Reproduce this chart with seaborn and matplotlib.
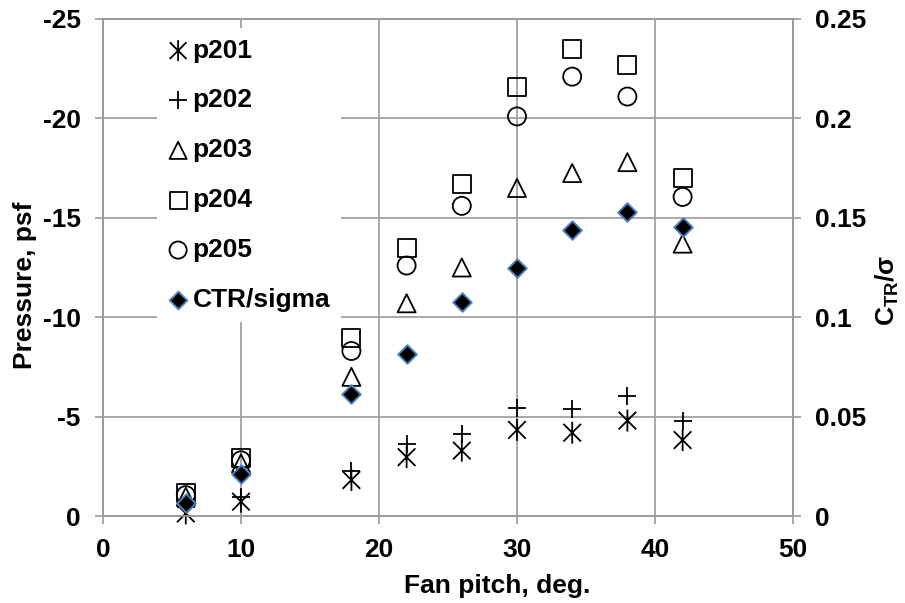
import matplotlib
matplotlib.use("Agg")
import matplotlib.pyplot as plt
from matplotlib.path import Path
from matplotlib.ticker import FuncFormatter
import seaborn as sns

# Fan pitch settings (deg.)
pitch = [6, 10, 18, 22, 26, 30, 34, 38, 42]

# Surface pressures at five taps (psf, suction negative)
p201 = [-0.13, -0.72, -1.81, -2.96, -3.29, -4.33, -4.19, -4.80, -3.82]
p202 = [-0.45, -0.95, -2.28, -3.62, -4.12, -5.45, -5.37, -6.04, -4.80]
p203 = [-0.97, -2.65, -7.00, -10.70, -12.50, -16.50, -17.25, -17.80, -13.70]
p204 = [-1.14, -2.92, -8.95, -13.50, -16.70, -21.60, -23.50, -22.70, -17.00]
p205 = [-1.05, -2.80, -8.30, -12.60, -15.60, -20.10, -22.10, -21.10, -16.05]

# Thrust coefficient over solidity
ctr_sigma = [0.0064, 0.021, 0.0614, 0.0815, 0.1077, 0.125, 0.144, 0.153, 0.1455]

left_ticks = [0, -5, -10, -15, -20, -25]
right_ticks = [0, 0.05, 0.10, 0.15, 0.20, 0.25]
x_ticks = [0, 10, 20, 30, 40, 50]

sns.set_theme(style="white")
plt.rcParams["font.family"] = ["Liberation Sans", "DejaVu Sans"]
plt.rcParams["font.weight"] = "bold"
plt.rcParams["axes.unicode_minus"] = False
for key in ("text.color", "axes.labelcolor", "xtick.labelcolor", "ytick.labelcolor"):
    plt.rcParams[key] = "black"

GRID = "#9a9a9a"
FS = 19

# Asterisk: a diagonal cross with a slightly longer vertical stroke
asterisk = Path(
    [(-1, -1), (1, 1), (-1, 1), (1, -1), (0, -1.25), (0, 1.25)],
    [Path.MOVETO, Path.LINETO, Path.MOVETO, Path.LINETO, Path.MOVETO, Path.LINETO],
)

fig = plt.figure(figsize=(9.05, 6.03), dpi=100)
ax = fig.add_axes([103 / 905, 1 - 516 / 603, 690 / 905, 497 / 603])
ax2 = ax.twinx()

open_kw = dict(color="black", facecolor="none", edgecolor="black", linewidth=1.3)
pressure_series = [
    ("p201", p201, dict(marker=asterisk, s=250, **open_kw)),
    ("p202", p202, dict(marker="+", s=180, color="black", linewidth=1.3)),
    ("p203", p203, dict(marker="^", s=169, **open_kw)),
    ("p204", p204, dict(marker="s", s=169, **open_kw)),
    ("p205", p205, dict(marker="o", s=169, **open_kw)),
]
for name, vals, style in pressure_series:
    sns.scatterplot(x=pitch, y=vals, ax=ax, label=name, clip_on=False,
                    zorder=3, legend=False, **style)

sns.scatterplot(x=pitch, y=ctr_sigma, ax=ax2, label="CTR/sigma", marker="D",
                s=90, color="black", edgecolor="#4f81bd", linewidth=1.4,
                clip_on=False, zorder=4, legend=False)

# Primary axis: pressure, inverted so suction rises upward
ax.set_xlim(0, 50)
ax.set_ylim(0, -25)
ax.set_xticks(x_ticks)
ax.set_yticks(left_ticks)
ax.grid(True, color=GRID, linewidth=1.2)
ax.set_axisbelow(True)
ax.tick_params(axis="both", which="major", direction="out", length=6,
               width=1.2, color=GRID, labelsize=FS, pad=10, labelcolor="black")
ax.tick_params(axis="y", left=True, right=False)
ax.tick_params(axis="x", bottom=True)
for sp in ax.spines.values():
    sp.set_color(GRID)
    sp.set_linewidth(1.2)

# Secondary axis: thrust coefficient
ax2.set_ylim(0, 0.25)
ax2.set_yticks(right_ticks)
ax2.yaxis.set_major_formatter(FuncFormatter(lambda v, _: f"{v:g}"))
ax2.grid(False)
ax2.tick_params(axis="y", direction="out", length=6, width=1.2, color=GRID,
                labelsize=FS, pad=10, labelcolor="black", right=True)
for sp in ax2.spines.values():
    sp.set_color(GRID)
    sp.set_linewidth(1.2)

ax.set_xlabel("Fan pitch, deg.", fontsize=FS, fontweight="bold", color="black")
ax.set_ylabel("Pressure, psf", fontsize=FS, fontweight="bold", color="black")
ax2.set_ylabel(r"C$_{\mathregular{TR}}$/σ", fontsize=FS, fontweight="bold",
               color="black")
ax.xaxis.set_label_coords(0.571, -0.117)
ax.yaxis.set_label_coords(-0.0957, 0.465)
ax2.yaxis.set_label_coords(1.116, 0.455)

h1, l1 = ax.get_legend_handles_labels()
h2, l2 = ax2.get_legend_handles_labels()
leg = ax2.legend(h1 + h2, l1 + l2, loc="upper left",
                 bbox_to_anchor=(157 / 905, 1 - 28 / 603),
                 bbox_transform=fig.transFigure, frameon=True,
                 facecolor="white", edgecolor="none", framealpha=1,
                 fancybox=False, prop={"size": FS, "weight": "bold"},
                 markerscale=0.95, scatterpoints=1, handlelength=0.8,
                 handletextpad=0.15, borderpad=0.4, labelspacing=0.98,
                 borderaxespad=0)
leg.set_zorder(10)

fig.savefig("out.png", dpi=100)
